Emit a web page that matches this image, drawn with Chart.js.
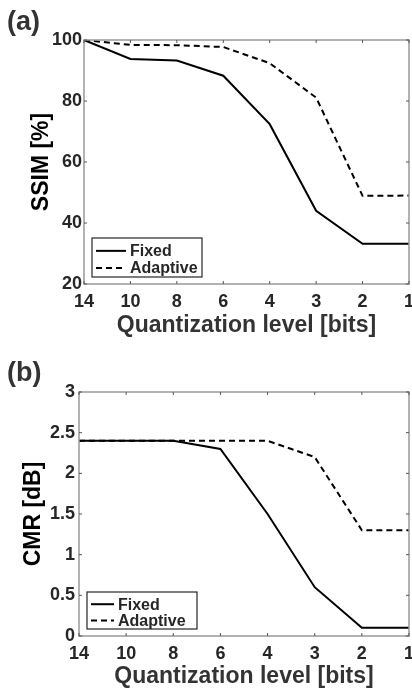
<!DOCTYPE html>
<html>
<head>
<meta charset="utf-8">
<script src="https://cdn.jsdelivr.net/npm/chart.js@4.4.1/dist/chart.umd.min.js"></script>
<style>
  body { margin: 0; background: #fff; }
  canvas { display: block; }
</style>
</head>
<body>
<canvas id="chartA" width="412" height="340"></canvas>
<canvas id="chartB" width="412" height="350"></canvas>
<script>
// datos
const bits = ["14", "10", "8", "6", "4", "3", "2", "1"];
const ssimFixed = [100, 93.8, 93.3, 88.3, 72.4, 44, 33.2, 33.2];
const ssimAdaptive = [100, 98.4, 98.3, 97.7, 92.4, 81.1, 48.9, 49];
const cmrFixed = [2.4, 2.4, 2.4, 2.3, 1.5, 0.6, 0.1, 0.1];
const cmrAdaptive = [2.4, 2.4, 2.4, 2.4, 2.4, 2.2, 1.3, 1.3];

const FONT = "'Liberation Sans', Arial, sans-serif";
const TXT = "#262626";

// caja con ticks hacia adentro (estilo matlab)
const boxPlugin = {
  id: "boxPlugin",
  afterDatasetsDraw(chart) {
    const { ctx, chartArea: a, scales } = chart;
    ctx.save();
    ctx.strokeStyle = "#999";
    ctx.lineWidth = 1.5;
    ctx.strokeRect(a.left, a.top, a.right - a.left, a.bottom - a.top);
    ctx.strokeStyle = "#555";
    ctx.lineWidth = 1;
    const t = 3;
    scales.x.ticks.forEach((tk, i) => {
      const px = scales.x.getPixelForTick(i);
      ctx.beginPath();
      ctx.moveTo(px, a.bottom); ctx.lineTo(px, a.bottom - t);
      ctx.moveTo(px, a.top); ctx.lineTo(px, a.top + t);
      ctx.stroke();
    });
    scales.y.ticks.forEach((tk, i) => {
      const py = scales.y.getPixelForTick(i);
      ctx.beginPath();
      ctx.moveTo(a.left, py); ctx.lineTo(a.left + t, py);
      ctx.moveTo(a.right, py); ctx.lineTo(a.right - t, py);
      ctx.stroke();
    });
    ctx.restore();
  }
};

// leyenda abajo a la izquierda dentro del area + etiqueta del panel
const legendBox = {
  id: "legendBox",
  afterDraw(chart, args, opts) {
    const { ctx, chartArea: a } = chart;
    const w = 110, h = opts.h;
    const x = a.left + 8, y = a.bottom - 7 - h;
    ctx.save();
    ctx.fillStyle = "#fff";
    ctx.fillRect(x, y, w, h);
    ctx.strokeStyle = TXT;
    ctx.lineWidth = 1.2;
    ctx.strokeRect(x, y, w, h);
    chart.data.datasets.forEach((ds, i) => {
      const ly = y + h * (i === 0 ? 0.33 : 0.77);
      ctx.beginPath();
      ctx.strokeStyle = "#000";
      ctx.lineWidth = 2;
      ctx.setLineDash(i === 0 ? [] : [6, 4]);
      ctx.moveTo(x + 4, ly);
      ctx.lineTo(x + 4 + opts.lineLen, ly);
      ctx.stroke();
      ctx.setLineDash([]);
      ctx.fillStyle = TXT;
      ctx.font = "bold 16px " + FONT;
      ctx.textBaseline = "middle";
      ctx.fillText(ds.label, x + opts.lineLen + 8, ly + 1);
    });
    // (a) / (b)
    ctx.fillStyle = "#333";
    ctx.font = "bold 27px " + FONT;
    ctx.textBaseline = "middle";
    ctx.fillText(opts.panel, 7, opts.panelY);
    ctx.restore();
  }
};

const makeChart = (id, cfg) => {
  const ctx = document.getElementById(id).getContext("2d");
  return new Chart(ctx, {
    type: "line",
    data: {
      labels: bits,
      datasets: [
        { label: "Fixed", data: cfg.fixed, borderColor: "#000", borderWidth: 2, pointRadius: 0, tension: 0 },
        { label: "Adaptive", data: cfg.adaptive, borderColor: "#000", borderWidth: 2, borderDash: [6, 4], pointRadius: 0, tension: 0 },
      ],
    },
    options: {
      responsive: false,
      animation: false,
      layout: { padding: { left: 0, right: 3, top: cfg.top, bottom: 0 } },
      plugins: {
        legend: { display: false },
        tooltip: { enabled: false },
        legendBox: { h: cfg.legH, lineLen: cfg.lineLen, panel: cfg.panel, panelY: cfg.panelY },
      },
      scales: {
        x: {
          type: "category",
          offset: false,
          grid: { display: false, drawTicks: false },
          border: { display: false },
          ticks: { color: TXT, padding: 7, maxRotation: 0, autoSkip: false, font: { family: FONT, size: 18, weight: "bold" } },
          title: {
            display: true,
            text: "Quantization level [bits]",
            color: "#333",
            font: { family: FONT, size: 23, weight: "bold" },
            padding: { top: 0, bottom: cfg.xTitlePad },
          },
          afterFit: (s) => { s.height = cfg.xH; s.paddingRight = 0; s.paddingLeft = 0; },
        },
        y: {
          min: cfg.min,
          max: cfg.max,
          grid: { display: false, drawTicks: false },
          border: { display: false },
          ticks: {
            stepSize: cfg.step, color: TXT, padding: cfg.yPad,
            font: { family: FONT, size: 18, weight: "bold" },
            callback: (v) => String(+v.toFixed(1)),
          },
          title: {
            display: true,
            text: cfg.yTitle,
            color: "#000",
            font: { family: FONT, size: 23, weight: "bold" },
            padding: { top: cfg.yTitlePad, bottom: 0 },
          },
          afterFit: (s) => { s.width = cfg.yW; s.paddingTop = 0; s.paddingBottom = 0; },
        },
      },
    },
    plugins: [boxPlugin, legendBox],
  });
};

makeChart("chartA", {
  panel: "(a)", fixed: ssimFixed, adaptive: ssimAdaptive,
  min: 20, max: 100, step: 20, yTitle: "SSIM [%]",
  top: 40, panelY: 23, xH: 56, xTitlePad: 1, yW: 84, yPad: 2, yTitlePad: 28,
  legH: 39, lineLen: 30,
});

makeChart("chartB", {
  panel: "(b)", fixed: cmrFixed, adaptive: cmrAdaptive,
  min: 0, max: 3, step: 0.5, yTitle: "CMR [dB]",
  top: 52, panelY: 34, xH: 54, xTitlePad: 0, yW: 79, yPad: 4, yTitlePad: 20,
  legH: 37, lineLen: 23,
});
</script>
</body>
</html>
